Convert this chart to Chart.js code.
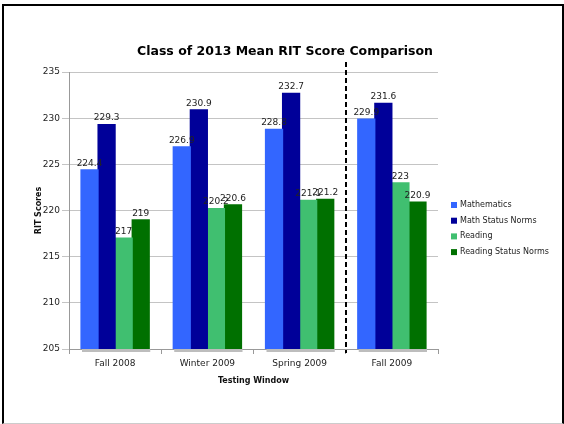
<!DOCTYPE html>
<html>
<head>
<meta charset="utf-8">
<script src="https://cdn.jsdelivr.net/npm/chart.js@4/dist/chart.umd.min.js"></script>
<style>
  body { margin: 0; background: #fff; }
  #wrap { position: relative; width: 564px; height: 424px; overflow: hidden; }
  #frame { position: absolute; left: 2px; top: 4px; width: 562px; height: 420px; border: 2px solid #000; border-bottom: 1px solid #ccc; box-sizing: border-box; pointer-events: none; }
  canvas { position: absolute; left: 0; top: 0; }
</style>
</head>
<body>
<div id="wrap">
  <canvas id="chart" width="564" height="424"></canvas>
  <div id="frame"></div>
</div>
<script>
// data
const windows = ['Fall 2008', 'Winter 2009', 'Spring 2009', 'Fall 2009'];
const mathematics = [224.4, 226.9, 228.8, 229.9];
const mathNorms = [229.3, 230.9, 232.7, 231.6];
const reading = [217, 220.2, 221.1, 223];
const readingNorms = [219, 220.6, 221.2, 220.9];
const seriesNames = ['Mathematics', 'Math Status Norms', 'Reading', 'Reading Status Norms'];
const seriesColors = ['#3366ff', '#000099', '#40bf70', '#007000'];

const FONT = 'DejaVu Sans';

// shadow under each group, value labels, dashed divider, title and legend
const extras = {
    id: 'extras',
    beforeDatasetsDraw(chart) {
        const ctx = chart.ctx;
        const bottom = chart.chartArea.bottom;
        ctx.save();
        ctx.fillStyle = '#bdbdbd';
        const first = chart.getDatasetMeta(0).data;
        const last = chart.getDatasetMeta(3).data;
        for (let i = 0; i < first.length; i++) {
            const l = first[i].x - first[i].width / 2 + 1;
            const r = last[i].x + last[i].width / 2 + 1;
            ctx.fillRect(l, bottom, r - l, 3);
        }
        ctx.restore();
    },
    afterDatasetsDraw(chart) {
        const ctx = chart.ctx;
        ctx.save();
        ctx.font = '9px "' + FONT + '"';
        ctx.fillStyle = '#222';
        ctx.textAlign = 'center';
        ctx.textBaseline = 'bottom';
        chart.data.datasets.forEach((ds, di) => {
            chart.getDatasetMeta(di).data.forEach((bar, i) => {
                ctx.fillText(String(ds.data[i]), bar.x, bar.y - 2);
            });
        });

        // dashed divider between Spring 2009 and Fall 2009
        const x = chart.scales.x;
        const xd = Math.round((x.getPixelForValue(2) + x.getPixelForValue(3)) / 2);
        ctx.strokeStyle = '#000';
        ctx.lineWidth = 2;
        ctx.setLineDash([5, 3]);
        ctx.beginPath();
        ctx.moveTo(xd, chart.chartArea.top - 10);
        ctx.lineTo(xd, chart.chartArea.bottom + 4);
        ctx.stroke();
        ctx.setLineDash([]);

        // title
        ctx.fillStyle = '#000';
        ctx.font = 'bold 12.5px "' + FONT + '"';
        ctx.textBaseline = 'middle';
        ctx.fillText('Class of 2013 Mean RIT Score Comparison', 285, 52);

        // legend
        ctx.font = '8px "' + FONT + '"';
        ctx.textAlign = 'left';
        seriesNames.forEach((name, i) => {
            const y = 205 + i * 15.7;
            ctx.fillStyle = seriesColors[i];
            ctx.fillRect(451, y - 3, 6, 6);
            ctx.fillStyle = '#222';
            ctx.fillText(name, 460, y);
        });
        ctx.restore();
    }
};

const series = [mathematics, mathNorms, reading, readingNorms];

new Chart(document.getElementById('chart'), {
    type: 'bar',
    data: {
        labels: windows,
        datasets: series.map((values, i) => ({
            label: seriesNames[i],
            data: values,
            backgroundColor: seriesColors[i],
            borderWidth: 0,
            inflateAmount: 0.6,
            categoryPercentage: 0.74,
            barPercentage: 1.0
        }))
    },
    options: {
        responsive: false,
        animation: false,
        layout: { padding: { left: 30, right: 126, top: 72, bottom: 34 } },
        plugins: {
            legend: { display: false },
            tooltip: { enabled: false }
        },
        scales: {
            x: {
                grid: { display: true, drawOnChartArea: false, color: '#999', tickLength: 5, offset: true },
                border: { color: '#999' },
                ticks: { color: '#222', font: { family: FONT, size: 9 }, padding: 4 },
                title: { display: true, text: 'Testing Window', color: '#111', font: { family: FONT, size: 8, weight: 'bold' }, padding: { top: 6 } },
                afterFit(scale) { scale.height = 424 - 34 - 349; }
            },
            y: {
                min: 205,
                max: 235,
                ticks: { stepSize: 5, color: '#222', font: { family: FONT, size: 9 }, padding: 2 },
                grid: { color: '#c4c4c4', tickLength: 7 },
                border: { color: '#999' },
                title: { display: true, text: 'RIT Scores', color: '#111', font: { family: FONT, size: 8, weight: 'bold' }, padding: { bottom: 0 } },
                afterFit(scale) { scale.width = 69 - 30; }
            }
        }
    },
    plugins: [extras]
});
</script>
</body>
</html>
